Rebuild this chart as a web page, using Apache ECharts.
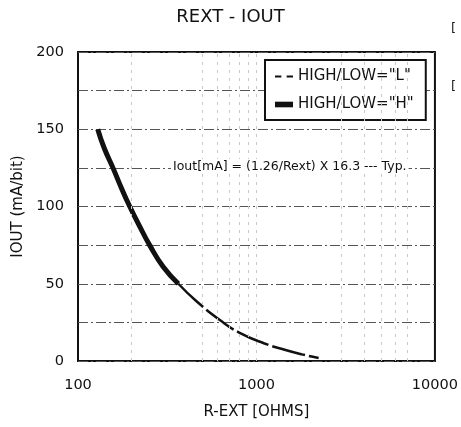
<!DOCTYPE html>
<html>
<head>
<meta charset="utf-8">
<script src="https://cdn.jsdelivr.net/npm/echarts@6/dist/echarts.min.js"></script>
<style>
html, body { margin: 0; padding: 0; background: #fff; }
#chart { width: 461px; height: 427px; }
</style>
</head>
<body>
<div id="chart"></div>
<script>
// HIGH/LOW="H" segment (thick) - ohms / mA
var hOhms = [129, 140, 157, 175, 195, 222, 252, 300, 365];
var hMa = [150, 138, 125, 112, 100, 87, 75, 61, 50];
// HIGH/LOW="L" segment (thin, dashed)
var lOhms = [365, 458, 632, 800, 1100, 1455, 1800, 2230];
var lMa = [50, 39, 26, 18.4, 11.5, 7.1, 4.3, 2];
// faint vertical grid lines seen on the scan
var minorGridX = [200, 500, 600, 700, 800, 900, 1000, 3000, 4000, 5000, 6000, 7000];
var yTicks = [0, 50, 100, 150, 200];

var font = '"DejaVu Sans", sans-serif';
var chart = echarts.init(document.getElementById('chart'));

function pairs(xs, ys) {
    return xs.map(function (x, i) { return [x, ys[i]]; });
}

var opt = {
    backgroundColor: '#fff',
    animation: false,
    title: {
        text: 'REXT - IOUT',
        left: 'center',
        top: 3,
        textStyle: { fontFamily: font, fontWeight: 'normal', fontSize: 18, color: '#111' }
    },
    grid: {
        left: 78, right: 24, top: 52, bottom: 66,
        show: true,
        borderColor: '#111',
        borderWidth: 2
    },
    legend: {
        orient: 'vertical',
        left: 265,
        top: 60,
        itemWidth: 18,
        itemHeight: 10,
        itemGap: 13,
        padding: [9, 12, 8, 10],
        borderColor: '#111',
        borderWidth: 2,
        backgroundColor: '#fff',
        textStyle: { fontFamily: font, fontSize: 15, color: '#111' },
        data: [
            { name: 'HIGH/LOW="L"', icon: 'path://M0,0h6v2h-6z M11,0h6v2h-6z' },
            { name: 'HIGH/LOW="H"', icon: 'path://M0,0h16v5h-16z' }
        ]
    },
    xAxis: {
        type: 'log',
        logBase: 10,
        min: 100,
        max: 10000,
        name: 'R-EXT [OHMS]',
        nameLocation: 'middle',
        nameGap: 44,
        nameTextStyle: { fontFamily: font, fontSize: 15, color: '#111' },
        axisLine: { show: false },
        axisTick: { show: false },
        splitLine: { show: false },
        axisLabel: {
            fontFamily: font, fontSize: 14.5, color: '#111', margin: 17,
            formatter: function (v) { return String(Math.round(v)); }
        }
    },
    yAxis: {
        type: 'value',
        min: 0,
        max: 200,
        interval: 25,
        name: 'IOUT (mA/bit)',
        nameLocation: 'middle',
        nameGap: 50,
        nameTextStyle: { fontFamily: font, fontSize: 15, color: '#111' },
        axisLine: { show: false },
        axisTick: { show: false },
        axisLabel: {
            fontFamily: font, fontSize: 14.5, color: '#111', margin: 14,
            formatter: function (v) { return yTicks.indexOf(v) >= 0 ? String(v) : ''; }
        },
        splitLine: { lineStyle: { color: '#555', width: 1, type: [10, 3, 2, 3] } }
    },
    series: [
        {
            name: 'HIGH/LOW="L"',
            type: 'line',
            smooth: true,
            symbol: 'none',
            color: '#111',
            data: pairs(lOhms, lMa),
            lineStyle: { color: '#111', width: 2.5, type: [34, 4] },
            markLine: {
                silent: true,
                symbol: 'none',
                label: { show: false },
                lineStyle: { color: '#c8c8c8', width: 1, type: [3, 5] },
                data: minorGridX.map(function (v) { return { xAxis: v }; })
            }
        },
        {
            name: 'HIGH/LOW="H"',
            type: 'line',
            smooth: true,
            symbol: 'none',
            color: '#111',
            data: pairs(hOhms, hMa),
            lineStyle: { color: '#111', width: 5 }
        }
    ],
    graphic: [
        {
            type: 'text',
            left: 171,
            top: 159,
            z: 100,
            style: {
                text: 'Iout[mA] = (1.26/Rext) X 16.3 --- Typ.',
                font: '12.5px "DejaVu Sans", sans-serif',
                fill: '#111',
                backgroundColor: '#fff',
                padding: [1, 2]
            }
        },
        { type: 'text', left: 451, top: 22, style: { text: '[', font: '13px "DejaVu Sans", sans-serif', fill: '#222' } },
        { type: 'text', left: 451, top: 80, style: { text: '[', font: '13px "DejaVu Sans", sans-serif', fill: '#222' } }
    ]
};
chart.setOption(opt);
window.addEventListener('resize', function () {
    chart.resize();
});
</script>
</body>
</html>
